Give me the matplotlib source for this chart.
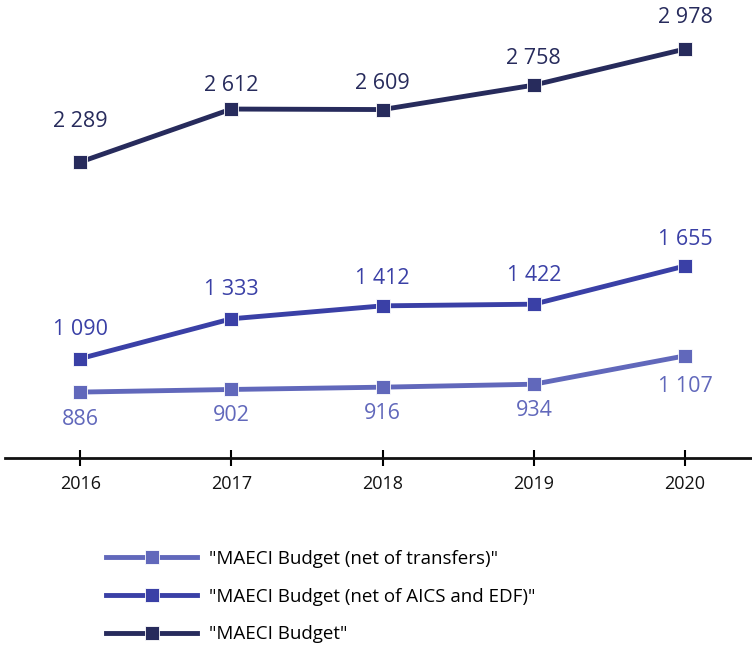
import matplotlib
matplotlib.use('Agg')
import matplotlib.pyplot as plt

years = [2016, 2017, 2018, 2019, 2020]
budget_net_transfers = [886, 902, 916, 934, 1107]
budget_net_aics_edf = [1090, 1333, 1412, 1422, 1655]
budget_total = [2289, 2612, 2609, 2758, 2978]

labels = ['"MAECI Budget (net of transfers)"',
          '"MAECI Budget (net of AICS and EDF)"',
          '"MAECI Budget"']
colors = ['#6168bb', '#3a40a6', '#272b5c']


def fmt(v):
    return '{:,}'.format(v).replace(',', ' ')


def main():
    plt.rcParams['font.family'] = ['Open Sans', 'DejaVu Sans']
    fig = plt.figure(figsize=(7.52, 6.46), dpi=100)
    ax = fig.add_axes([0.007, 0.291, 0.993, 0.709])

    series = [budget_net_transfers, budget_net_aics_edf, budget_total]
    # label offsets (points) for each series
    offsets = [[-20, -19, -19, -19, -22],
               [21, 21, 20, 21, 19],
               [29, 17, 19, 19, 23]]
    for vals, lab, col, offs in zip(series, labels, colors, offsets):
        ax.plot(years, vals, color=col, lw=3.5, marker='s', ms=10,
                mec='white', mew=0.6, label=lab, zorder=3)
        for x, v, off in zip(years, vals, offs):
            ax.annotate(fmt(v), (x, v), xytext=(0, off), textcoords='offset points',
                        ha='center', va='center', fontsize=15.5, color=col)

    ax.set_xlim(2015.504, 2020.443)
    ax.set_ylim(484, 3277)
    for s in ['top', 'right', 'left']:
        ax.spines[s].set_visible(False)
    ax.spines['bottom'].set_linewidth(2)
    ax.spines['bottom'].set_color('#111111')
    ax.set_yticks([])
    ax.set_xticks(years)
    ax.set_xticklabels([str(y) for y in years], fontsize=13, color='#111111')
    ax.tick_params(axis='x', direction='inout', length=12, width=1.5, pad=6)

    fig.legend(loc='upper left', bbox_to_anchor=(0.118, 0.175), frameon=False,
               fontsize=13.5, handlelength=4.9, labelspacing=1.05, handletextpad=0.6)

    fig.savefig('out.png', dpi=100)


if __name__ == '__main__':
    main()
